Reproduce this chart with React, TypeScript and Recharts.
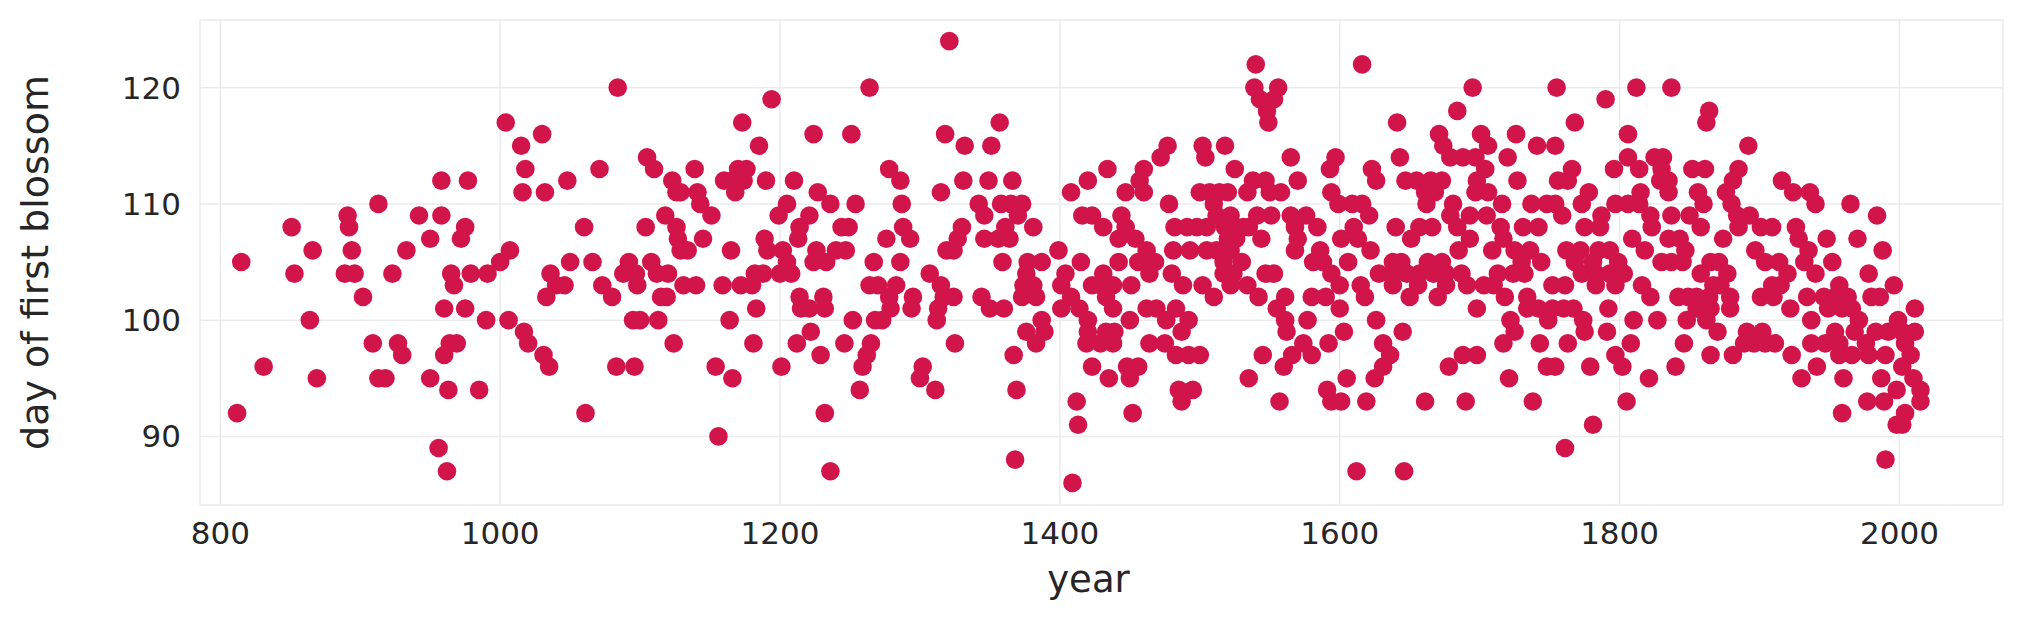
import { ScatterChart, Scatter, XAxis, YAxis, CartesianGrid } from 'recharts';

// [year, day of first blossom]
type Obs = [number, number];

const bloom800to1010: Obs[] = [
  [812, 92], [815, 105], [831, 96], [851, 108], [853, 104], [864, 100], [866, 106], [869, 95],
  [889, 104], [891, 109], [892, 108], [894, 106], [896, 104], [902, 102],
  [913, 110], [1004, 117], [958, 112], [977, 112], [942, 109], [958, 109], [975, 108], [972, 107],
  [950, 107], [933, 106], [923, 104], [965, 104], [967, 103], [979, 104], [991, 104], [1000, 105],
  [1007, 106], [960, 101], [975, 101], [990, 100], [1006, 100], [909, 98], [927, 98], [930, 97],
  [964, 98], [969, 98], [960, 97], [913, 95], [918, 95], [950, 95], [963, 94], [985, 94],
  [956, 89], [962, 87],
];

const bloom1010to1220: Obs[] = [
  [1015, 115], [1018, 113], [1016, 111], [1030, 116], [1032, 111], [1048, 112], [1071, 113], [1084, 120],
  [1105, 114], [1110, 113], [1060, 108], [1050, 105], [1066, 105], [1036, 104], [1046, 103], [1040, 103],
  [1033, 102], [1073, 103], [1080, 102], [1088, 104], [1092, 105], [1097, 104], [1098, 103], [1108, 105],
  [1112, 104], [1104, 108], [1115, 102], [1017, 99], [1020, 98], [1031, 97], [1035, 96], [1095, 100],
  [1100, 100], [1113, 100], [1083, 96], [1096, 96], [1061, 92],
  [1194, 119], [1173, 117], [1185, 115], [1123, 112], [1139, 113], [1126, 111], [1129, 111], [1141, 111],
  [1143, 110], [1151, 109], [1160, 112], [1170, 113], [1176, 113], [1166, 112], [1174, 112], [1168, 111],
  [1190, 112], [1210, 112], [1205, 110], [1199, 109], [1118, 109], [1126, 108], [1127, 107], [1129, 106],
  [1134, 106], [1145, 107], [1165, 106], [1189, 107], [1191, 106], [1202, 106], [1205, 105], [1213, 107],
  [1214, 108], [1120, 104], [1119, 102], [1131, 103], [1140, 103], [1159, 103], [1172, 103], [1180, 103],
  [1182, 104], [1188, 104], [1200, 104], [1208, 104], [1183, 101], [1214, 102], [1215, 101], [1164, 100],
  [1124, 98], [1181, 98], [1212, 98], [1154, 96], [1166, 95], [1201, 96], [1156, 90],
];

const bloom1220to1430: Obs[] = [
  [1321, 124], [1264, 120], [1224, 116], [1251, 116], [1318, 116], [1278, 113], [1286, 112], [1315, 111],
  [1227, 111], [1236, 110], [1254, 110], [1287, 110], [1221, 109], [1244, 108], [1249, 108], [1288, 108],
  [1276, 107], [1293, 107], [1226, 106], [1240, 106], [1247, 106], [1319, 106], [1224, 105], [1233, 105],
  [1267, 105], [1286, 105], [1307, 104], [1264, 103], [1270, 103], [1283, 103], [1315, 103], [1231, 102],
  [1278, 102], [1295, 102], [1317, 102], [1221, 101], [1232, 101], [1279, 101], [1294, 101], [1313, 101],
  [1252, 100], [1268, 100], [1273, 100], [1312, 100], [1222, 99], [1246, 98], [1265, 98], [1262, 97],
  [1229, 97], [1259, 96], [1302, 96], [1300, 95], [1311, 94], [1257, 94], [1232, 92], [1236, 87],
  [1357, 117], [1332, 115], [1351, 115], [1331, 112], [1349, 112], [1366, 112], [1420, 112], [1408, 111],
  [1342, 110], [1346, 109], [1358, 110], [1365, 110], [1373, 110], [1370, 109], [1361, 108], [1381, 108],
  [1330, 108], [1416, 109], [1423, 109], [1327, 107], [1346, 107], [1356, 107], [1364, 107], [1324, 106],
  [1399, 106], [1359, 105], [1377, 105], [1387, 105], [1415, 105], [1404, 104], [1376, 104], [1374, 103],
  [1381, 103], [1401, 103], [1423, 103], [1324, 102], [1344, 102], [1373, 102], [1383, 102], [1408, 102],
  [1350, 101], [1360, 101], [1401, 101], [1414, 101], [1387, 100], [1420, 100], [1376, 99], [1389, 99],
  [1383, 98], [1420, 99], [1419, 98], [1325, 98], [1367, 97], [1423, 96], [1369, 94], [1412, 93],
  [1413, 91], [1368, 88], [1409, 86],
];

const bloom1430to1635: Obs[] = [
  [1434, 113], [1477, 115], [1472, 114], [1502, 115], [1504, 114], [1518, 115], [1525, 113], [1460, 113],
  [1457, 112], [1460, 111], [1447, 111], [1500, 111], [1507, 111], [1514, 111], [1520, 111], [1478, 110],
  [1510, 110], [1431, 108], [1444, 109], [1447, 108], [1442, 107], [1454, 107], [1482, 108], [1491, 108],
  [1498, 108], [1505, 108], [1512, 109], [1522, 109], [1518, 108], [1525, 108], [1462, 106], [1481, 106],
  [1493, 106], [1505, 106], [1512, 106], [1520, 107], [1526, 107], [1522, 106], [1456, 105], [1468, 105],
  [1442, 105], [1464, 104], [1480, 104], [1431, 104], [1517, 105], [1517, 104], [1524, 104], [1438, 103],
  [1429, 103], [1451, 103], [1488, 103], [1502, 103], [1522, 103], [1433, 102], [1510, 102], [1438, 101],
  [1462, 101], [1469, 101], [1483, 101], [1450, 100], [1476, 100], [1492, 100], [1487, 99], [1429, 98],
  [1438, 98], [1433, 99], [1439, 99], [1464, 98], [1475, 98], [1483, 97], [1492, 97], [1500, 97],
  [1448, 96], [1456, 96], [1435, 95], [1450, 95], [1485, 94], [1495, 94], [1487, 93], [1452, 92],
  [1540, 122], [1539, 120], [1556, 120], [1543, 119], [1553, 119], [1548, 118], [1549, 117], [1616, 122],
  [1565, 114], [1597, 114], [1593, 113], [1623, 113], [1538, 112], [1547, 112], [1570, 112], [1626, 112],
  [1534, 111], [1550, 111], [1558, 111], [1594, 111], [1599, 110], [1609, 110], [1616, 110], [1621, 109],
  [1541, 109], [1551, 109], [1565, 109], [1576, 109], [1531, 108], [1535, 108], [1568, 108], [1584, 108],
  [1610, 108], [1544, 107], [1570, 107], [1601, 107], [1613, 107], [1568, 106], [1586, 106], [1622, 106],
  [1581, 105], [1588, 105], [1606, 105], [1530, 105], [1547, 104], [1553, 104], [1594, 104], [1628, 104],
  [1534, 103], [1600, 103], [1615, 103], [1542, 102], [1561, 102], [1580, 102], [1590, 102], [1618, 102],
  [1555, 101], [1600, 101], [1561, 100], [1577, 100], [1626, 100], [1562, 99], [1603, 99], [1574, 98],
  [1592, 98], [1631, 98], [1566, 97], [1580, 97], [1545, 97], [1560, 96], [1535, 95], [1605, 95],
  [1625, 95], [1631, 96], [1591, 94], [1557, 93], [1594, 93], [1601, 93], [1619, 93], [1612, 87],
];

const bloom1635to1840: Obs[] = [
  [1695, 120], [1684, 118], [1641, 117], [1671, 116], [1701, 116], [1726, 116], [1674, 115], [1706, 115],
  [1643, 114], [1679, 114], [1688, 114], [1697, 114], [1720, 114], [1704, 113], [1647, 112], [1655, 112],
  [1665, 112], [1673, 112], [1698, 112], [1727, 112], [1661, 111], [1668, 111], [1697, 111], [1706, 111],
  [1662, 110], [1681, 110], [1716, 110], [1679, 109], [1693, 109], [1705, 109], [1640, 108], [1657, 108],
  [1666, 108], [1684, 108], [1715, 108], [1731, 108], [1651, 107], [1693, 107], [1717, 107], [1685, 106],
  [1709, 106], [1725, 106], [1638, 105], [1644, 105], [1663, 105], [1673, 105], [1730, 105], [1638, 104],
  [1648, 104], [1657, 104], [1667, 104], [1676, 104], [1687, 104], [1713, 104], [1724, 104], [1732, 104],
  [1638, 103], [1656, 103], [1676, 103], [1691, 103], [1703, 103], [1710, 103], [1650, 102], [1670, 102],
  [1718, 102], [1734, 102], [1698, 101], [1734, 101], [1722, 100], [1645, 99], [1725, 99], [1717, 98],
  [1636, 97], [1688, 97], [1698, 97], [1678, 96], [1721, 95], [1661, 93], [1690, 93], [1646, 87],
  [1755, 120], [1790, 119], [1812, 120], [1837, 120], [1768, 117], [1806, 116], [1741, 115], [1754, 115],
  [1806, 114], [1825, 114], [1831, 114], [1766, 113], [1796, 113], [1814, 113], [1756, 112], [1763, 112],
  [1830, 113], [1829, 112], [1835, 112], [1778, 111], [1815, 111], [1835, 111], [1737, 110], [1748, 110],
  [1754, 110], [1773, 110], [1797, 110], [1806, 110], [1814, 110], [1759, 109], [1787, 109], [1822, 109],
  [1837, 109], [1742, 108], [1775, 108], [1786, 108], [1823, 108], [1809, 107], [1835, 107], [1736, 106],
  [1762, 106], [1772, 106], [1785, 106], [1793, 106], [1818, 106], [1744, 105], [1768, 105], [1781, 105],
  [1799, 105], [1830, 105], [1837, 105], [1773, 104], [1783, 104], [1793, 104], [1803, 104], [1752, 103],
  [1761, 103], [1783, 103], [1797, 103], [1816, 103], [1822, 102], [1742, 101], [1752, 101], [1760, 101],
  [1767, 101], [1792, 101], [1749, 100], [1774, 100], [1810, 100], [1827, 100], [1775, 99], [1791, 99],
  [1743, 98], [1763, 98], [1808, 98], [1797, 97], [1748, 96], [1754, 96], [1779, 96], [1802, 96],
  [1840, 96], [1821, 95], [1738, 93], [1805, 93], [1781, 91], [1761, 89],
];

const bloom1840to2015: Obs[] = [
  [1864, 118], [1862, 117], [1892, 115], [1852, 113], [1861, 113], [1885, 113], [1881, 112], [1916, 112],
  [1924, 111], [1936, 111], [1856, 111], [1876, 111], [1940, 110], [1860, 110], [1880, 110], [1850, 109],
  [1884, 109], [1893, 109], [1858, 108], [1885, 108], [1901, 108], [1909, 108], [1926, 108], [1874, 107],
  [1843, 107], [1928, 107], [1847, 106], [1845, 105], [1897, 106], [1935, 106], [1865, 105], [1871, 105],
  [1904, 105], [1914, 105], [1932, 105], [1858, 104], [1877, 104], [1920, 104], [1940, 104], [1909, 103],
  [1915, 103], [1867, 103], [1872, 103], [1842, 102], [1849, 102], [1855, 102], [1864, 102], [1879, 102],
  [1901, 102], [1910, 102], [1934, 102], [1855, 101], [1865, 101], [1879, 101], [1922, 101], [1848, 100],
  [1862, 100], [1937, 100], [1870, 99], [1891, 99], [1902, 99], [1846, 98], [1889, 98], [1896, 98],
  [1904, 98], [1911, 98], [1937, 98], [1865, 97], [1881, 97], [1923, 97], [1941, 96], [1930, 95],
  [1965, 110], [1984, 109], [1948, 107], [1970, 107], [1988, 106], [1952, 105], [1978, 104], [1996, 103],
  [1957, 103], [1946, 102], [1954, 102], [1963, 102], [1980, 102], [1986, 102], [2011, 101], [1949, 101],
  [1959, 101], [1966, 101], [1999, 100], [1971, 100], [2011, 99], [1954, 99], [1968, 99], [1983, 99],
  [1992, 99], [2002, 99], [1947, 98], [1957, 98], [1976, 98], [2004, 98], [1957, 97], [1966, 97],
  [1978, 97], [1990, 97], [2008, 97], [2002, 96], [1960, 95], [1987, 95], [2010, 95], [1998, 94],
  [2015, 94], [1977, 93], [1989, 93], [2015, 93], [2004, 92], [1959, 92], [1998, 91], [2002, 91],
  [1990, 88],
];

const yearTicks = [800, 1000, 1200, 1400, 1600, 1800, 2000];
const dayTicks = [90, 100, 110, 120];

const data = [
  ...bloom800to1010,
  ...bloom1010to1220,
  ...bloom1220to1430,
  ...bloom1430to1635,
  ...bloom1635to1840,
  ...bloom1840to2015,
].map(([year, doy]) => ({ year, doy }));

const FONT = "'DejaVu Sans', sans-serif";
const TEXT = '#262626';
const DOT = '#d1154b';

const Dot = (props: any) => <circle cx={props.cx} cy={props.cy} r={9.3} fill={DOT} />;

export default function App() {
  return (
    <div style={{ position: 'absolute', left: 0, top: 0, width: 2023, height: 623, background: '#fff' }}>
      <ScatterChart width={2023} height={623} margin={{ top: 20, right: 20, bottom: 28, left: 10 }}>
        <CartesianGrid stroke="#ebebeb" strokeWidth={1.5} />
        <XAxis
          dataKey="year"
          type="number"
          domain={[785.5, 2074]}
          ticks={yearTicks}
          axisLine={false}
          tickLine={false}
          tickMargin={11}
          height={90}
          tick={{ fontSize: 31, fill: TEXT, fontFamily: FONT }}
          label={{ value: 'year', position: 'insideBottom', offset: 3, dx: -13, fontSize: 37, fill: TEXT, fontFamily: FONT }}
        />
        <YAxis
          dataKey="doy"
          type="number"
          domain={[84.1, 125.82]}
          ticks={dayTicks}
          axisLine={false}
          tickLine={false}
          tickMargin={13}
          width={190}
          tick={{ fontSize: 31, fill: TEXT, fontFamily: FONT }}
          label={{
            value: 'day of first blossom',
            angle: -90,
            position: 'insideLeft',
            offset: 25,
            fontSize: 38,
            fill: TEXT,
            fontFamily: FONT,
            style: { textAnchor: 'middle' },
          }}
        />
        <Scatter data={data} shape={Dot} isAnimationActive={false} />
      </ScatterChart>
    </div>
  );
}
